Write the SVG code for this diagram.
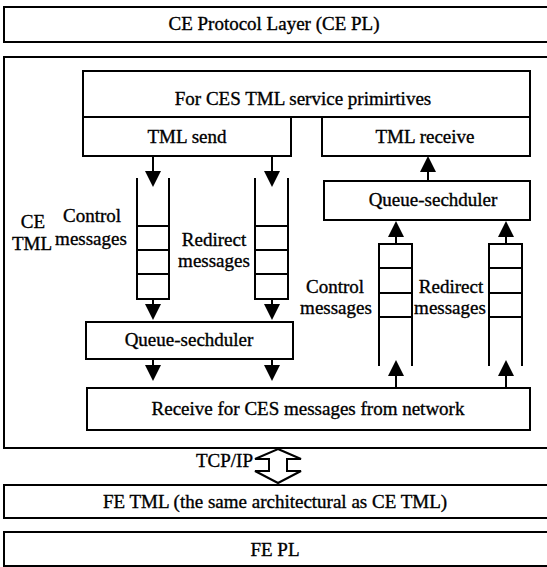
<svg xmlns="http://www.w3.org/2000/svg" width="547" height="567" viewBox="0 0 547 567">
  <defs>
    <style>
      .box { fill: #fff; stroke: #000; stroke-width: 2; }
      .ln { fill: none; stroke: #000; stroke-width: 2; }
      .arr { fill: none; stroke: #000; stroke-width: 2; marker-end: url(#head); }
      text { font-family: "Liberation Serif", "Times New Roman", serif; font-size: 19px; fill: #000; stroke: #000; stroke-width: 0.35; }
      .c { text-anchor: middle; }
      .e { text-anchor: end; }
    </style>
    <marker id="head" markerUnits="userSpaceOnUse" markerWidth="17" markerHeight="17" refX="0" refY="8" orient="auto">
      <path d="M0,0 L16,8 L0,16 z" fill="#000"/>
    </marker>
  </defs>

  <rect width="547" height="567" fill="#fff"/>

  <!-- CE protocol layer -->
  <g id="ce-pl">
    <rect class="box" x="4" y="7" width="560" height="35"/>
    <text class="c" x="274" y="30">CE Protocol Layer (CE PL)</text>
  </g>

  <!-- CE TML container -->
  <g id="ce-tml">
    <rect class="box" x="4" y="57" width="560" height="391"/>
    <text class="c" x="33" y="228">CE</text>
    <text class="c" x="32" y="250">TML</text>
  </g>

  <!-- service primitives with send / receive -->
  <g id="primitives">
    <rect class="box" x="83" y="71" width="447" height="46"/>
    <text class="c" x="303" y="105">For CES TML service primirtives</text>
  </g>
  <g id="tml-send">
    <rect class="box" x="83" y="117" width="208" height="39"/>
    <text class="c" x="187" y="143">TML send</text>
  </g>
  <g id="tml-receive">
    <rect class="box" x="322" y="117" width="208" height="39"/>
    <text class="c" x="425" y="143">TML receive</text>
  </g>

  <!-- outgoing queues -->
  <g id="send-control-queue">
    <path class="ln" d="M137,178 V299 H169 V178 M137,226 H169 M137,250 H169 M137,274 H169"/>
    <text class="c" x="92" y="222">Control</text>
    <text class="c" x="91" y="245">messages</text>
  </g>
  <g id="send-redirect-queue">
    <path class="ln" d="M255,178 V299 H288 V178 M255,226 H288 M255,250 H288 M255,274 H288"/>
    <text class="c" x="214" y="246">Redirect</text>
    <text class="c" x="214" y="267">messages</text>
  </g>
  <g id="send-scheduler">
    <rect class="box" x="86" y="322" width="207" height="37"/>
    <text class="c" x="189" y="346">Queue-sechduler</text>
  </g>

  <!-- incoming side -->
  <g id="receive-scheduler">
    <rect class="box" x="324" y="181" width="206" height="39"/>
    <text class="c" x="433" y="206">Queue-sechduler</text>
  </g>
  <g id="receive-control-queue">
    <path class="ln" d="M379,366 V244 H412 V366 M379,268 H412 M379,293 H412 M379,317 H412"/>
    <text class="c" x="335" y="293">Control</text>
    <text class="c" x="336" y="314">messages</text>
  </g>
  <g id="receive-redirect-queue">
    <path class="ln" d="M489,366 V244 H522 V366 M489,268 H522 M489,293 H522 M489,317 H522"/>
    <text class="c" x="451" y="293">Redirect</text>
    <text class="c" x="450" y="314">messages</text>
  </g>

  <g id="network-receive">
    <rect class="box" x="87" y="388" width="443" height="42"/>
    <text class="c" x="308" y="415">Receive for CES messages from network</text>
  </g>

  <!-- FE side -->
  <g id="fe-tml">
    <rect class="box" x="4" y="485" width="560" height="33"/>
    <text class="c" x="275" y="508">FE TML (the same architectural as CE TML)</text>
  </g>
  <g id="fe-pl">
    <rect class="box" x="4" y="532" width="560" height="34"/>
    <text class="c" x="275" y="556">FE PL</text>
  </g>

  <!-- connectors -->
  <g id="connectors">
    <line class="arr" x1="153" y1="156" x2="153" y2="171"/>
    <line class="arr" x1="272" y1="156" x2="272" y2="171"/>
    <line class="arr" x1="153" y1="299" x2="153" y2="304"/>
    <line class="arr" x1="272" y1="299" x2="272" y2="304"/>
    <line class="arr" x1="153" y1="359" x2="153" y2="365"/>
    <line class="arr" x1="272" y1="359" x2="272" y2="365"/>
    <line class="arr" x1="428" y1="181" x2="428" y2="172"/>
    <line class="arr" x1="396" y1="244" x2="396" y2="237"/>
    <line class="arr" x1="506" y1="244" x2="506" y2="237"/>
    <line class="arr" x1="396" y1="388" x2="396" y2="376"/>
    <line class="arr" x1="506" y1="388" x2="506" y2="376"/>
    <!-- TCP/IP double arrow between CE and FE -->
    <path class="box" d="M278,449 L301,459 H287 V471 H301 L278,483 L255,471 H269 V459 H255 Z"/>
    <text class="e" x="253" y="467">TCP/IP</text>
  </g>
</svg>
